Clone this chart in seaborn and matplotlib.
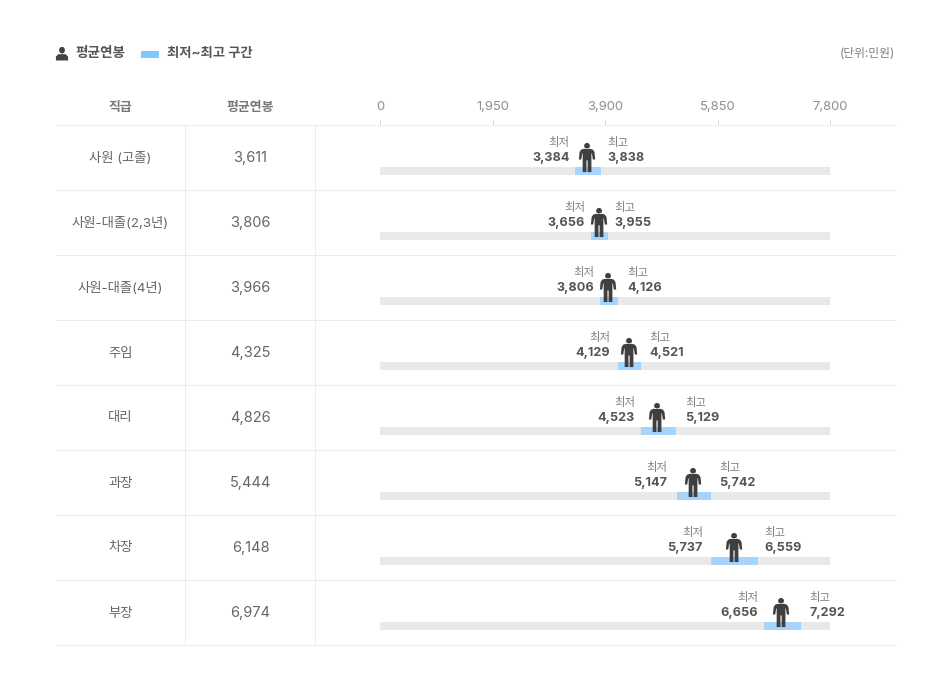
import matplotlib
matplotlib.use("Agg")
import matplotlib.pyplot as plt
import matplotlib.patches as mpatches
from matplotlib.lines import Line2D
from matplotlib.path import Path
import seaborn as sns
import pandas as pd

grades = ["사원 (고졸)", "사원-대졸(2,3년)", "사원-대졸(4년)", "주임", "대리", "과장", "차장", "부장"]
avg_pay = [3611, 3806, 3966, 4325, 4826, 5444, 6148, 6974]
low_pay = [3384, 3656, 3806, 4129, 4523, 5147, 5737, 6656]
high_pay = [3838, 3955, 4126, 4521, 5129, 5742, 6559, 7292]
axis_ticks = [0, 1950, 3900, 5850, 7800]
axis_max = 7800

W, H, DPI = 952, 694, 100
FONT = ["Inter", "Noto Sans CJK KR", "DejaVu Sans"]
ROW_H = 65
TOP = 125
BAR_DROP = 13.5 / ROW_H
ICON_LIFT = 1 / ROW_H

sns.set_theme(style="white")
plt.rcParams["font.family"] = FONT

df = pd.DataFrame({"grade": grades, "avg": avg_pay, "low": low_pay, "high": high_pay})
df["span"] = df["high"] - df["low"]
df["track"] = axis_max
df["icon_y"] = df.index - BAR_DROP - ICON_LIFT

fig = plt.figure(figsize=(W / DPI, H / DPI), dpi=DPI, facecolor="white")
ax = fig.add_axes([380 / W, 1 - (TOP + 8 * ROW_H) / H, 450 / W, 8 * ROW_H / H])

bar_h = 8 / ROW_H
sns.barplot(data=df, x="track", y="grade", color="#e9e9e9", saturation=1, width=bar_h, ax=ax, orient="h", linewidth=0)
sns.barplot(data=df, x="span", y="grade", left=df["low"], color="#a6d4fd", saturation=1, width=bar_h, ax=ax, orient="h", linewidth=0)

# standing figure marker, drawn slightly left of its anchor like the original icon
ICON_SHIFT = -0.1
body_pts = [(-0.2, 0.6), (0.2, 0.6), (0.4, 0.54), (0.51, 0.38), (0.56, -0.14), (0.4, -0.14), (0.33, 0.28),
            (0.3, 0.28), (0.3, -1.0), (0.04, -1.0), (0.04, -0.2), (-0.04, -0.2), (-0.04, -1.0), (-0.3, -1.0),
            (-0.3, 0.28), (-0.33, 0.28), (-0.4, -0.14), (-0.56, -0.14), (-0.51, 0.38), (-0.4, 0.54), (-0.2, 0.6)]
body = Path([(x + ICON_SHIFT, y) for x, y in body_pts], closed=False)
head = Path.circle((ICON_SHIFT, 0.8), 0.2)
person = Path.make_compound_path(head, body)
sns.scatterplot(data=df, x="avg", y="icon_y", marker=person, s=440, color="#3f3f3f", linewidth=0, ax=ax, zorder=5, clip_on=False)

ax.set_xlim(0, axis_max)
ax.set_ylim(7.5 - BAR_DROP, -0.5 - BAR_DROP)
ax.set_xlabel("")
ax.set_ylabel("")
ax.set_yticks([])
ax.xaxis.tick_top()
ax.set_xticks(axis_ticks)
ax.set_xticklabels([f"{t:,}" for t in axis_ticks], fontsize=9.4, color="#8f8f8f")
ax.tick_params(axis="x", length=3.5, width=0.7, color="#d5d5d5", pad=5, top=True, bottom=False)
for s in ax.spines.values():
    s.set_visible(False)
ax.patch.set_alpha(0)


def fx(x):
    return x / W


def fy(y):
    return 1 - y / H


def ftext(x, y, s, **kw):
    kw.setdefault("va", "center")
    kw.setdefault("ha", "center")
    kw.setdefault("family", FONT)
    fig.text(fx(x), fy(y), s, **kw)


# table rules
for i in range(9):
    y = TOP + i * ROW_H
    fig.add_artist(Line2D([fx(56), fx(896)], [fy(y), fy(y)], color="#ececec", lw=0.72))
for x in (185, 315):
    fig.add_artist(Line2D([fx(x), fx(x)], [fy(TOP), fy(TOP + 8 * ROW_H)], color="#ececec", lw=0.72))

# gaps from the range ends to the labels, in pixels
LOW_PAD = [5.5, 6, 5.5, 8, 6, 10, 8, 6]
HIGH_PAD = [6, 6.5, 9.5, 8.5, 9.5, 8, 6, 8.5]

for i, row in df.iterrows():
    cy = TOP + (i + 0.5) * ROW_H
    ftext(120.5, cy + 1, row["grade"], fontsize=9.6, color="#666666")
    ftext(250.5, cy + 0.5, f"{row['avg']:,}", fontsize=10.5, color="#666666")
    for val, pad, ha, cap in ((row["low"], -LOW_PAD[i], "right", "최저"), (row["high"], HIGH_PAD[i], "left", "최고")):
        ax.annotate(f"{val:,}", (val, i), xytext=(pad * 72 / DPI, 12.6 * 72 / DPI), textcoords="offset points",
                    ha=ha, va="center", fontsize=9.1, fontweight="bold", color="#555555", family=FONT, annotation_clip=False)
        ax.annotate(cap, (val, i), xytext=(pad * 72 / DPI, 28.5 * 72 / DPI), textcoords="offset points",
                    ha=ha, va="center", fontsize=8.2, color="#808080", family=FONT, annotation_clip=False)

# header row
ftext(120.5, 107.5, "직급", fontsize=9.3, fontweight="bold", color="#777777")
ftext(250.5, 107.5, "평균연봉", fontsize=9.3, fontweight="bold", color="#777777")

# key
bust = Path.make_compound_path(
    Path.circle((0, 0.48), 0.48),
    Path([(-1, -1), (-1, -0.45), (-0.6, -0.1), (0.6, -0.1), (1, -0.45), (1, -1), (-1, -1)], closed=False),
)
key_ax = fig.add_axes([55 / W, 1 - 60.5 / H, 14 / W, 14 / H])
key_ax.axis("off")
key_ax.add_patch(mpatches.PathPatch(bust, color="#444444", lw=0))
key_ax.set_xlim(-1.15, 1.15)
key_ax.set_ylim(-1.0, 1.0)
ftext(75.5, 53.5, "평균연봉", ha="left", fontsize=9.8, fontweight="bold", color="#555555")
fig.add_artist(mpatches.Rectangle((fx(141), fy(58)), 18 / W, 7 / H, transform=fig.transFigure, color="#7cc8ff", lw=0))
ftext(167, 53.5, "최저~최고 구간", ha="left", fontsize=9.6, fontweight="bold", color="#555555")
ftext(895, 54, "(단위:민원)", ha="right", fontsize=8.5, color="#808080")

fig.savefig("out.png", dpi=DPI, facecolor="white")
